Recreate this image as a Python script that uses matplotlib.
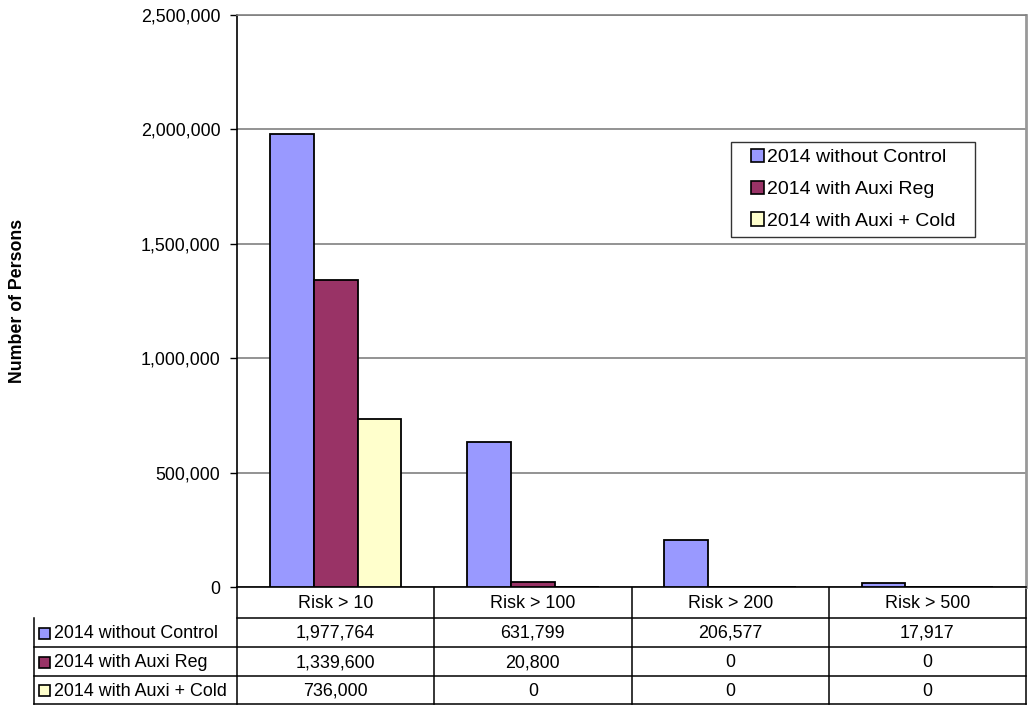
import matplotlib
matplotlib.use("Agg")
import matplotlib.pyplot as plt
from matplotlib.patches import Rectangle
from matplotlib.lines import Line2D
from matplotlib.ticker import FuncFormatter, MultipleLocator
import numpy as np

plt.rcParams['font.family'] = ['Liberation Sans', 'DejaVu Sans']

categories = ["Risk > 10", "Risk > 100", "Risk > 200", "Risk > 500"]
series_names = ["2014 without Control", "2014 with Auxi Reg", "2014 with Auxi + Cold"]
without_control = [1977764, 631799, 206577, 17917]
with_auxi_reg = [1339600, 20800, 0, 0]
with_auxi_cold = [736000, 0, 0, 0]
series_values = [without_control, with_auxi_reg, with_auxi_cold]
colors = ["#9999FF", "#993366", "#FFFFCC"]

W, H = 1031, 705
fig = plt.figure(figsize=(W / 100, H / 100), dpi=100)

# plot area in pixels
L, R, T, B = 237, 1026, 15, 587
ax = fig.add_axes([L / W, (H - B) / H, (R - L) / W, (B - T) / H])

FS = 12.9
LEG_FS = 14
n = len(categories)
x = np.arange(n)
bw = 1 / 4.5
for k, (vals, c) in enumerate(zip(series_values, colors)):
    ax.bar(x + (k - 1) * bw, vals, width=bw, color=c, edgecolor="black",
           linewidth=1.3, zorder=3)

ax.set_xlim(-0.5, n - 0.5)
ax.set_ylim(0, 2500000)
ax.yaxis.set_major_locator(MultipleLocator(500000))
ax.yaxis.set_major_formatter(FuncFormatter(lambda v, p: f"{int(v):,}"))
ax.tick_params(axis="y", labelsize=FS, length=5, width=1, direction="out", pad=7)
ax.set_xticks([])
ax.grid(axis="y", color="#808080", linewidth=1.2, zorder=0)
ax.spines["left"].set_color("black")
ax.spines["bottom"].set_color("black")
ax.spines["left"].set_linewidth(1.2)
ax.spines["bottom"].set_linewidth(1.2)
ax.spines["top"].set_color("#808080")
ax.spines["right"].set_color("#999999")
ax.spines["right"].set_linewidth(2)
ax.spines["top"].set_linewidth(1.2)

fig.text(18 / W, 1 - 301 / H, "Number of Persons", rotation=90, ha="center",
         va="center", fontsize=12.8, fontweight="bold")

# legend box and entries
def ax_frac(px, py):
    return ((px - L) / (R - L), (B - py) / (B - T))

bx0, by0 = ax_frac(731, 237)
bx1, by1 = ax_frac(975, 142)
ax.add_patch(Rectangle((bx0, by0), bx1 - bx0, by1 - by0, transform=ax.transAxes,
                       facecolor="white", edgecolor="#333333", linewidth=1.0,
                       zorder=4))
handles = [Rectangle((0, 0), 1, 1, facecolor=c, edgecolor="black", linewidth=1.2)
           for c in colors]
leg = ax.legend(handles, series_names, loc="upper left",
                bbox_to_anchor=ax_frac(751, 149),
                fontsize=LEG_FS, frameon=False,
                handlelength=0.68, handleheight=0.68, handletextpad=0.15,
                labelspacing=0.73, borderpad=0, borderaxespad=0)
leg.set_zorder(6)

# data table underneath the plot, in pixel coordinates
tab = fig.add_axes([0, 0, 1, 1], zorder=-1)
tab.set_xlim(0, W)
tab.set_ylim(H, 0)
tab.axis("off")

col_w = (R - L) / n
col_edges = [L + i * col_w for i in range(n + 1)]
table_left = 34
row_edges = [B, 618, 647, 676, 704]
line_kw = dict(color="black", linewidth=1.1)

# header row (categories)
tab.add_line(Line2D([L, R], [row_edges[1]] * 2, **line_kw))
for i, cat in enumerate(categories):
    cx = (col_edges[i] + col_edges[i + 1]) / 2
    tab.text(cx, (row_edges[0] + row_edges[1]) / 2 + 1, cat, ha="center",
             va="center", fontsize=FS)
# series rows
for r in range(2, len(row_edges)):
    tab.add_line(Line2D([table_left, R], [row_edges[r]] * 2, **line_kw))
tab.add_line(Line2D([table_left, table_left], [row_edges[1], row_edges[-1]], **line_kw))
for e in col_edges:
    tab.add_line(Line2D([e, e], [row_edges[0], row_edges[-1]], **line_kw))

for k, (name, vals, c) in enumerate(zip(series_names, series_values, colors)):
    y0, y1 = row_edges[k + 1], row_edges[k + 2]
    cy = (y0 + y1) / 2 + 1
    tab.add_patch(Rectangle((38.5, cy - 6), 11, 11, facecolor=c,
                            edgecolor="black", linewidth=1.2))
    tab.text(54, cy, name, ha="left", va="center", fontsize=FS)
    for i, v in enumerate(vals):
        cx = (col_edges[i] + col_edges[i + 1]) / 2
        tab.text(cx, cy, f"{v:,}", ha="center", va="center", fontsize=FS)

fig.savefig("out.png", dpi=100, facecolor="white")
